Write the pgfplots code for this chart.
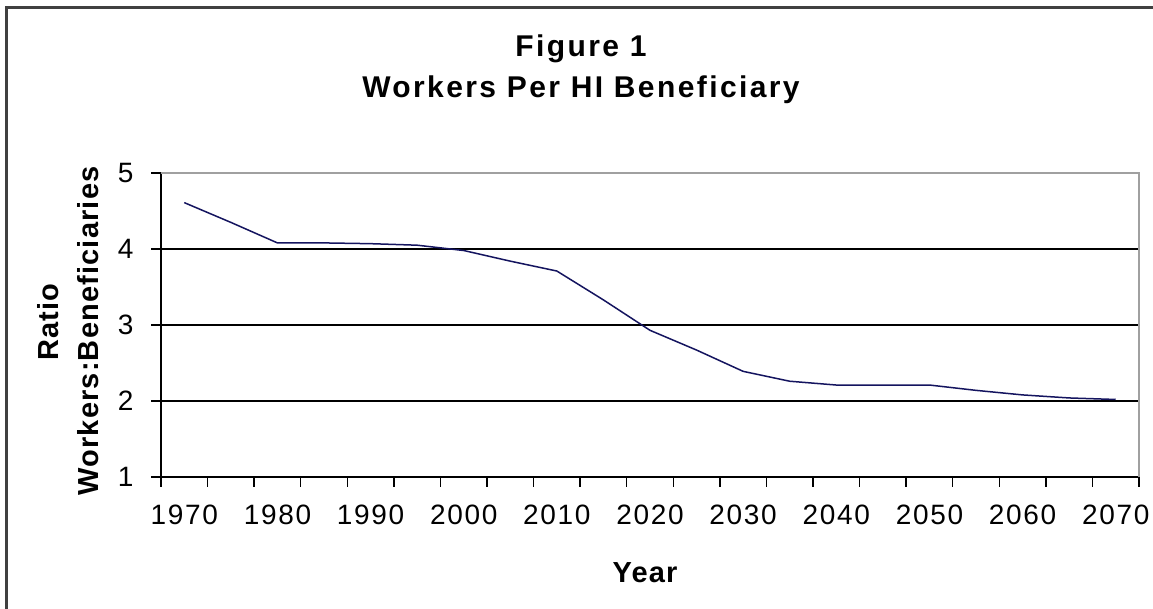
\documentclass[border=0pt]{standalone}
\usepackage{pgfplots}
\pgfplotsset{compat=1.18}
\usepackage{fontspec}
\setmainfont{Liberation Sans}
\newfontfamily\lblfont[LetterSpace=6]{Liberation Sans}
\newfontfamily\ylblfont[LetterSpace=4]{Liberation Sans}
\newfontfamily\ttlfont[LetterSpace=8]{Liberation Sans}
\definecolor{navyline}{HTML}{14145F}
\definecolor{bordergray}{HTML}{A0A0A0}
\definecolor{framegray}{HTML}{404040}
\pgfplotstableread{
idx ratio
0 4.61
1 4.35
2 4.08
3 4.08
4 4.07
5 4.05
6 3.98
7 3.84
8 3.71
9 3.33
10 2.93
11 2.67
12 2.39
13 2.26
14 2.21
15 2.21
16 2.21
17 2.14
18 2.08
19 2.04
20 2.02
}\ratiodata
\begin{document}
\begin{tikzpicture}[x=1pt,y=1pt]
\useasboundingbox (0,0) rectangle (1153,609);
\fill[white] (0,0) rectangle (1153,609);
\draw[framegray, line width=2.5pt] (6.5,-20) -- (6.5,601.5) -- (1180,601.5);
\begin{axis}[
  at={(161pt,132pt)}, anchor=south west,
  scale only axis, width=978pt, height=304pt,
  xmin=-0.5, xmax=20.5, ymin=1, ymax=5,
  axis x line*=bottom, axis y line*=left,
  axis line style={black, line width=1.4pt},
  tick align=outside,
  major tick length=10pt,
  tick style={black, line width=1.4pt},
  xtick={-0.5,0.5,...,20.5},
  xticklabels={},
  extra x ticks={0,2,...,20},
  extra x tick labels={1970,1980,1990,2000,2010,2020,2030,2040,2050,2060,2070},
  extra x tick style={major tick length=0pt, xticklabel style={font=\lblfont\fontsize{28}{30}\selectfont, yshift=-24pt}},
  ytick={1,2,3,4,5},
  yticklabels={1,2,3,4,5},
  yticklabel style={font=\lblfont\fontsize{28}{30}\selectfont, xshift=-14pt},
  /pgf/number format/assume math mode=true,
  ymajorgrids=true,
  major grid style={black, line width=1.4pt},
  clip=false,
]
\addplot[navyline, line width=1.5pt, mark=none] table[x=idx, y=ratio] {\ratiodata};
\draw[bordergray, line width=1.4pt] (rel axis cs:0,1) -- (rel axis cs:1,1) -- (rel axis cs:1,0);
\end{axis}
\node[anchor=base, font=\ttlfont\bfseries\fontsize{30}{32}\selectfont] at (581,552) {Figure 1};
\node[anchor=base, font=\ttlfont\bfseries\fontsize{30}{32}\selectfont] at (581,511) {Workers Per HI Beneficiary};
\node[anchor=base, rotate=90, font=\ylblfont\bfseries\fontsize{29}{32}\selectfont] at (58,287) {Ratio};
\node[anchor=base, rotate=90, font=\ylblfont\bfseries\fontsize{29}{32}\selectfont] at (98,278) {Workers:Beneficiaries};
\node[anchor=base, font=\ylblfont\bfseries\fontsize{29}{32}\selectfont] at (645,26) {Year};
\end{tikzpicture}
\end{document}
